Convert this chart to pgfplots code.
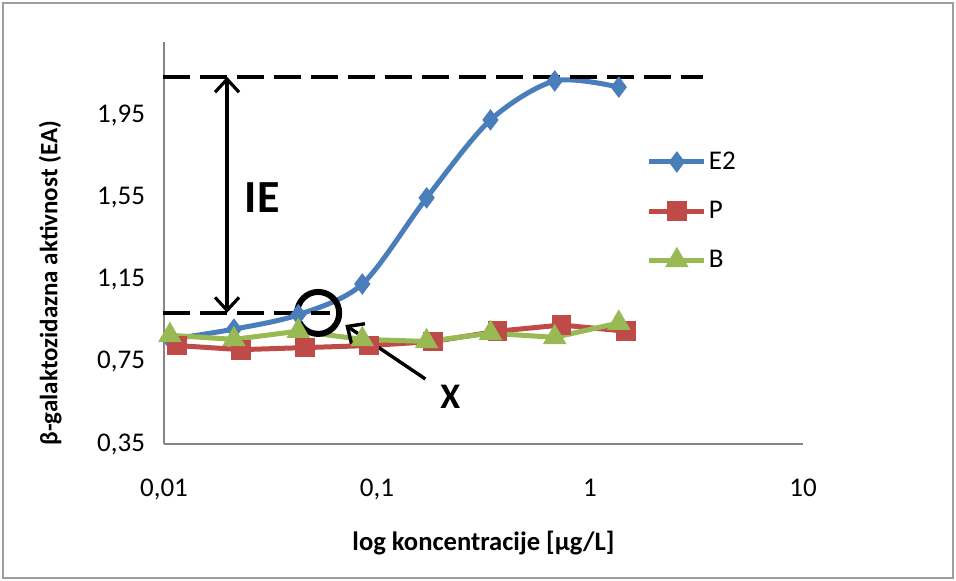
\documentclass[border=0pt]{standalone}
\usepackage{pgfplots}
\pgfplotsset{compat=1.18}
\usepackage{fontspec}
\setmainfont{Carlito}
\usetikzlibrary{arrows.meta}
\definecolor{cE}{HTML}{4A7EBB}
\definecolor{cP}{HTML}{BE4B48}
\definecolor{cB}{HTML}{98B954}
\definecolor{axgray}{HTML}{868686}
\begin{document}
\begin{tikzpicture}
\fill[white] (-82pt,-68.5pt) rectangle (396pt,222pt);
\draw[axgray!80, line width=0.8pt] (-80.5pt,-67pt) rectangle (394.5pt,220.5pt);
\begin{axis}[
  at={(0,0)}, anchor=south west,
  scale only axis, width=319.5pt, height=201pt,
  xmode=log, xmin=0.01, xmax=10, ymin=0.35, ymax=2.31,
  axis x line*=bottom, axis y line*=left,
  axis line style={draw=axgray, line width=1pt, -},
  xtick={0.01,0.1,1,10}, xticklabels={{0,01},{0,1},1,10},
  ytick={0.35,0.75,1.15,1.55,1.95}, yticklabels={{0,35},{0,75},{1,15},{1,55},{1,95}},
  major tick length=0pt, minor tick length=0pt,
  tick label style={font=\fontsize{13.5}{16}\selectfont},
  xticklabel style={yshift=-14pt},
  yticklabel style={xshift=-6pt},
  xlabel={\bfseries log koncentracije [µg/L]},
  ylabel={\bfseries β-galaktozidazna aktivnost (EA)},
  every axis x label/.style={at={(axis description cs:0.5,-0.246)}, anchor=center, font=\fontsize{13.3}{16}\selectfont},
  every axis y label/.style={at={(axis description cs:-0.178,0.40)}, rotate=90, anchor=center, font=\fontsize{12.5}{15}\selectfont},
  clip=false,
  legend style={at={(axis description cs:0.755,0.733)}, anchor=north west, draw=none, fill=none,
    font=\fontsize{13.5}{16}\selectfont, row sep=12.3pt, inner sep=0pt, nodes={inner sep=1pt}},
  legend cell align=left,
  legend image code/.code={\draw[#1, mark repeat=2, mark phase=2] plot coordinates {(0pt,0pt) (13.75pt,0pt) (27.5pt,0pt)};},
]
\addplot[cE, line width=2.5pt, smooth, tension=0.5, mark=diamond*, mark size=5pt,
  mark options={solid, fill=cE, draw=cE, line width=0.5pt}]
  coordinates {(0.01066,0.86) (0.0213,0.91) (0.0427,0.98) (0.0853,1.13) (0.171,1.55) (0.341,1.93) (0.683,2.12) (1.365,2.09)};
\addlegendentry{E2}
\addplot[cP, line width=2.5pt, mark=square*, mark size=4.7pt,
  mark options={solid, fill=cP, draw=cP, line width=0.5pt}]
  coordinates {(0.0115,0.83) (0.023,0.81) (0.046,0.82) (0.092,0.83) (0.184,0.85) (0.368,0.90) (0.735,0.93) (1.47,0.90)};
\addlegendentry{P}
\addplot[cB, line width=2.5pt, mark=triangle*, mark size=6.3pt,
  mark options={solid, fill=cB, draw=cB, line width=0.5pt}]
  coordinates {(0.01066,0.88) (0.0213,0.86) (0.0427,0.90) (0.0853,0.86) (0.171,0.85) (0.341,0.89) (0.683,0.87) (1.365,0.94)};
\addlegendentry{B}
% annotations
\draw[black, line width=1.8pt, dash pattern=on 13.5pt off 5pt] (axis cs:0.00984,2.14) -- (axis cs:3.38,2.14);
\draw[black, line width=1.8pt, dash pattern=on 13.5pt off 5pt] (axis cs:0.00984,0.99) -- (axis cs:0.0603,0.99);
\draw[black, line width=1.6pt, {Straight Barb[length=6.5pt,width=12pt]}-{Straight Barb[length=6.5pt,width=12pt]}]
  (axis cs:0.01978,2.14) -- (axis cs:0.01978,0.99);
\draw[black, line width=3pt] (axis cs:0.05297,0.989) circle[radius=10.5pt];
\draw[black, line width=1.7pt, -{Straight Barb[length=6.5pt,width=12pt]}] (axis cs:0.1687,0.667) -- (axis cs:0.0710,0.930);
\node[font=\fontsize{23}{26}\selectfont\bfseries] at (axis cs:0.0289,1.55) {IE};
\node[font=\fontsize{18}{21}\selectfont\bfseries] at (axis cs:0.2211,0.579) {X};
\end{axis}
\end{tikzpicture}
\end{document}
